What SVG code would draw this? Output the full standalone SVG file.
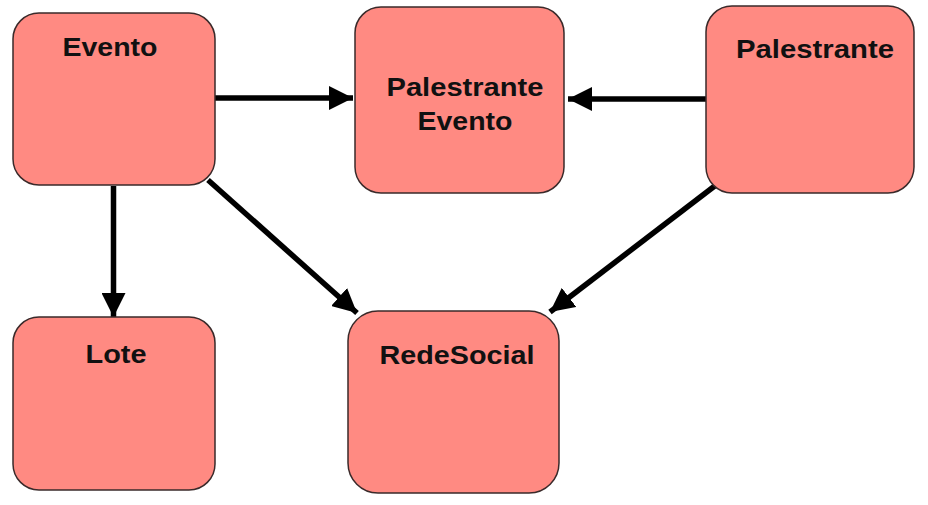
<svg xmlns="http://www.w3.org/2000/svg" width="928" height="505" viewBox="0 0 928 505">
<defs>
<style>
.box{fill:#FF8A82;stroke:#3a2a2a;stroke-width:1.5}
.lbl{font-family:"Liberation Sans",Arial,sans-serif;font-weight:bold;font-size:26.5px;fill:#111;text-anchor:middle}
.con{stroke:#000;stroke-width:5.5;fill:none}
</style>
<marker id="ah" markerUnits="userSpaceOnUse" markerWidth="26" markerHeight="24" refX="24" refY="12" orient="auto" viewBox="0 0 26 24">
<path d="M0,0 L24,12 L0,24 Z" fill="#000"/>
</marker>
</defs>
<rect width="928" height="505" fill="#fff"/>
<g id="connectors">
<line class="con" x1="215" y1="98" x2="353" y2="98" marker-end="url(#ah)"/>
<line class="con" x1="706" y1="99" x2="568" y2="99" marker-end="url(#ah)"/>
<line class="con" x1="113.5" y1="186" x2="113.5" y2="317" marker-end="url(#ah)"/>
<line class="con" x1="208" y1="180" x2="357" y2="313" marker-end="url(#ah)"/>
<line class="con" x1="716" y1="185" x2="550" y2="312" marker-end="url(#ah)"/>
</g>
<g id="evento">
<rect class="box" x="13" y="13" width="202" height="172" rx="26"/>
<text class="lbl" x="110" y="56" textLength="95" lengthAdjust="spacingAndGlyphs">Evento</text>
</g>
<g id="palestrante-evento">
<rect class="box" x="355" y="7" width="209" height="186" rx="26"/>
<text class="lbl" x="465" y="96" textLength="157" lengthAdjust="spacingAndGlyphs">Palestrante</text>
<text class="lbl" x="465" y="130" textLength="95" lengthAdjust="spacingAndGlyphs">Evento</text>
</g>
<g id="palestrante">
<rect class="box" x="706" y="6" width="208" height="187" rx="26"/>
<text class="lbl" x="815" y="58" textLength="158" lengthAdjust="spacingAndGlyphs">Palestrante</text>
</g>
<g id="lote">
<rect class="box" x="13" y="317" width="202" height="173" rx="26"/>
<text class="lbl" x="116" y="363" textLength="61" lengthAdjust="spacingAndGlyphs">Lote</text>
</g>
<g id="redesocial">
<rect class="box" x="348" y="311" width="211" height="182" rx="30"/>
<text class="lbl" x="457" y="364" textLength="155" lengthAdjust="spacingAndGlyphs">RedeSocial</text>
</g>
</svg>
